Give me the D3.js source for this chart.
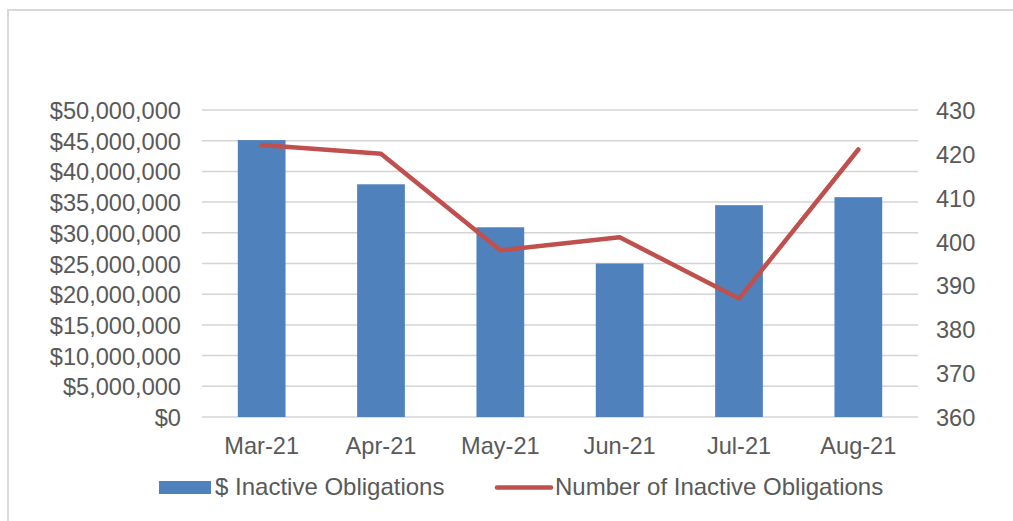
<!DOCTYPE html>
<html>
<head>
<meta charset="utf-8">
<script src="https://cdn.jsdelivr.net/npm/d3@7"></script>
<style>
  body { margin: 0; background: #fff; }
  text { font-family: "Liberation Sans", Arial, sans-serif; fill: #595959; }
</style>
</head>
<body>
<div id="chart"></div>
<script>
// data
var months = ["Mar-21", "Apr-21", "May-21", "Jun-21", "Jul-21", "Aug-21"];
var dollarValues = [45100000, 37900000, 30900000, 25000000, 34500000, 35800000];
var countValues = [422, 420, 398, 401, 387, 421];
var leftTicks = [0, 5000000, 10000000, 15000000, 20000000, 25000000, 30000000, 35000000, 40000000, 45000000, 50000000];
var rightTicks = [360, 370, 380, 390, 400, 410, 420, 430];

var svgWidth = 1013, svgHeight = 521;
var margin = { top: 110, right: 95, bottom: 104, left: 202 };
var width = svgWidth - margin.left - margin.right;
var height = svgHeight - margin.top - margin.bottom;

var svg = d3.select("#chart")
  .append("svg")
    .attr("width", svgWidth)
    .attr("height", svgHeight);

// outer frame (runs off the right and bottom edges)
svg.append("rect")
  .attr("x", 8).attr("y", 10)
  .attr("width", 1100).attr("height", 700)
  .attr("fill", "none")
  .attr("stroke", "#d9d9d9")
  .attr("stroke-width", 2);

var g = svg.append("g")
  .attr("transform", `translate(${margin.left}, ${margin.top})`);

// scales
var x = d3.scaleBand().domain(months).range([0, width]).padding(0);
var yLeft = d3.scaleLinear().domain([0, 50000000]).range([height, 0]);
var yRight = d3.scaleLinear().domain([360, 430]).range([height, 0]);

// gridlines
g.selectAll(".grid")
  .data(leftTicks)
  .enter().append("line")
    .attr("class", "grid")
    .attr("x1", 0).attr("x2", width)
    .attr("y1", d => yLeft(d)).attr("y2", d => yLeft(d))
    .attr("stroke", "#d4d4d4")
    .attr("stroke-width", 1.5);

// left axis
var leftAxis = d3.axisLeft(yLeft)
  .tickValues(leftTicks)
  .tickSize(0)
  .tickPadding(21)
  .tickFormat(d => "$" + d3.format(",")(d));
g.append("g")
  .attr("class", "yLeft")
  .call(leftAxis)
  .call(s => s.select(".domain").remove())
  .selectAll("text")
    .style("font-size", "23.6px")
    .attr("dy", "0.36em");

// right axis
var rightAxis = d3.axisRight(yRight)
  .tickValues(rightTicks)
  .tickSize(0)
  .tickPadding(18);
g.append("g")
  .attr("class", "yRight")
  .attr("transform", `translate(${width}, 0)`)
  .call(rightAxis)
  .call(s => s.select(".domain").remove())
  .selectAll("text")
    .style("font-size", "23.6px")
    .attr("dy", "0.36em");

// x axis
var xAxis = d3.axisBottom(x).tickSize(0).tickPadding(20);
g.append("g")
  .attr("class", "xAxis")
  .attr("transform", `translate(0, ${height})`)
  .call(xAxis)
  .call(s => s.select(".domain").remove())
  .selectAll("text")
    .style("font-size", "23.6px")
    .attr("dy", "0.71em");

// bars
var barW = x.bandwidth() * 0.4;
g.selectAll(".bar")
  .data(dollarValues)
  .enter().append("rect")
    .attr("class", "bar")
    .attr("x", (d, i) => x(months[i]) + (x.bandwidth() - barW) / 2)
    .attr("y", d => yLeft(d))
    .attr("width", barW)
    .attr("height", d => height - yLeft(d))
    .attr("fill", "#4f81bd");

// line
var line = d3.line()
  .x((d, i) => x(months[i]) + x.bandwidth() / 2)
  .y(d => yRight(d));
g.append("path")
  .datum(countValues)
  .attr("d", line)
  .attr("fill", "none")
  .attr("stroke", "#c0504d")
  .attr("stroke-width", 4.5)
  .attr("stroke-linejoin", "round")
  .attr("stroke-linecap", "round");

// legend
var legend = svg.append("g").attr("class", "legend");
legend.append("rect")
  .attr("x", 159).attr("y", 481)
  .attr("width", 52).attr("height", 13)
  .attr("fill", "#4f81bd");
legend.append("text")
  .attr("x", 215).attr("y", 495)
  .style("font-size", "24px")
  .text("$ Inactive Obligations");
legend.append("line")
  .attr("x1", 497).attr("x2", 551)
  .attr("y1", 487.5).attr("y2", 487.5)
  .attr("stroke", "#c0504d")
  .attr("stroke-width", 4.5)
  .attr("stroke-linecap", "round");
legend.append("text")
  .attr("x", 555).attr("y", 495)
  .style("font-size", "24px")
  .text("Number of Inactive Obligations");
</script>
</body>
</html>
